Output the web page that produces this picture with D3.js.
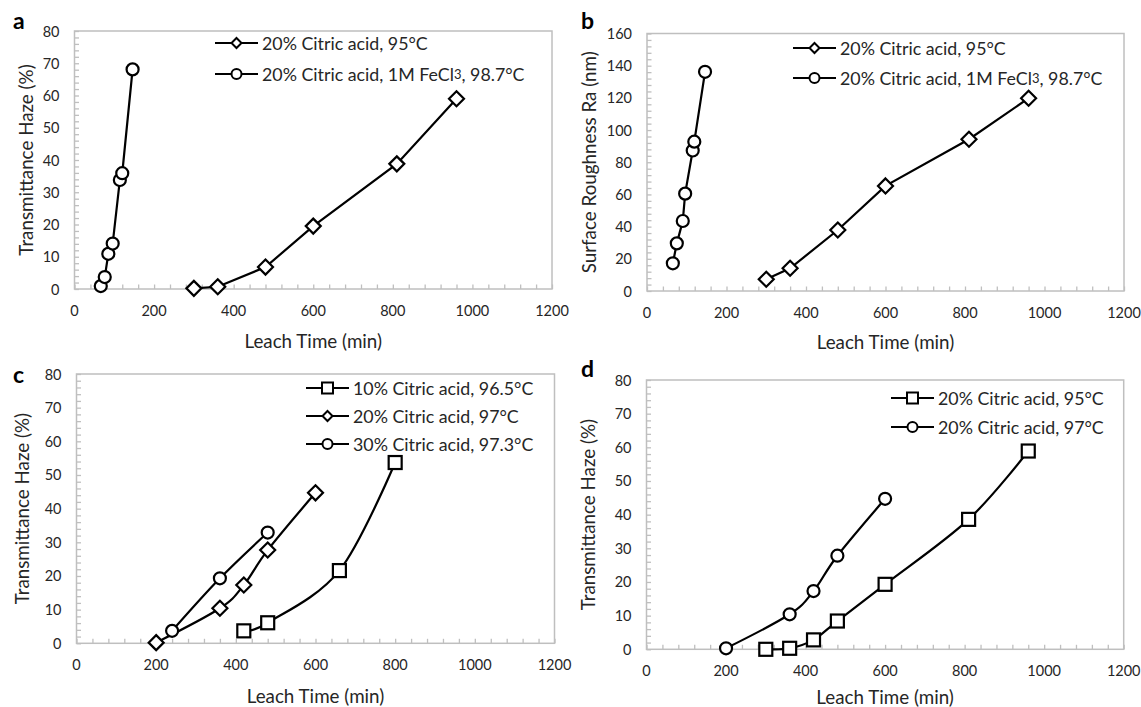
<!DOCTYPE html>
<html>
<head>
<meta charset="utf-8">
<script src="https://cdn.jsdelivr.net/npm/d3@7"></script>
<style>
  body { margin: 0; background: #fff; }
  text { font-family: Lato, "Open Sans", sans-serif; fill: #262626; }
</style>
</head>
<body>
<svg id="chart" width="1141" height="707"></svg>
<script>
// x axis ticks (leach time, min)
const timeTicks = [0, 200, 400, 600, 800, 1000, 1200]

// panel a - transmittance haze
const aDiamondTime = [300, 360, 480, 600, 810, 960]
const aDiamondHaze = [0.2, 0.7, 6.8, 19.5, 38.8, 59]
const aCircleTime = [66, 76, 85, 96, 114, 120, 146]
const aCircleHaze = [0.9, 3.7, 10.9, 14.1, 33.8, 35.9, 68.1]
const aTicks = [0, 10, 20, 30, 40, 50, 60, 70, 80]

// panel b - surface roughness
const bDiamondTime = [300, 360, 480, 600, 810, 960]
const bDiamondRa = [7.3, 14.1, 37.9, 65.3, 94.3, 119.8]
const bCircleTime = [65, 75, 90, 96, 115, 119, 146]
const bCircleRa = [17.2, 29.6, 43.5, 60.5, 87.3, 92.8, 136.2]
const bTicks = [0, 20, 40, 60, 80, 100, 120, 140, 160]

// panel c - acid concentration
const cSquareTime = [420, 480, 660, 800]
const cSquareHaze = [3.7, 6.1, 21.6, 53.7]
const cDiamondTime = [200, 360, 420, 480, 600]
const cDiamondHaze = [0.2, 10.4, 17.3, 27.7, 44.7]
const cCircleTime = [240, 360, 480]
const cCircleHaze = [3.7, 19.3, 32.9]

// panel d - temperature
const dSquareTime = [300, 360, 420, 480, 600, 810, 960]
const dSquareHaze = [0, 0.3, 2.8, 8.4, 19.3, 38.6, 58.9]
const dCircleTime = [200, 360, 420, 480, 600]
const dCircleHaze = [0.3, 10.4, 17.3, 27.8, 44.7]

const zip = (xs, ys) => xs.map((x, i) => ({x: x, y: ys[i]}))

const panels = [
    {letter: 'a', box: {l: 74.5, r: 552, t: 31, b: 289}, letterPos: [13, 29],
     yTicks: aTicks, yMinor: 2, yTitle: 'Transmittance Haze (%)', yTitleX: 25.5, xTitleY: 340,
     curve: d3.curveLinear,
     legend: {x: 215, y: 43, dy: 31},
     series: [
        {shape: 'diamond', label: '20% Citric acid, 95°C', data: zip(aDiamondTime, aDiamondHaze)},
        {shape: 'circle', label: '20% Citric acid, 1M FeCl|3|, 98.7°C', data: zip(aCircleTime, aCircleHaze)}
     ]},
    {letter: 'b', box: {l: 647, r: 1124, t: 33.5, b: 291}, letterPos: [581, 29],
     yTicks: bTicks, yMinor: 4, yTitle: 'Surface Roughness Ra (nm)', yTitleX: 588, xTitleY: 341.5,
     curve: d3.curveLinear,
     legend: {x: 793, y: 48, dy: 30},
     series: [
        {shape: 'diamond', label: '20% Citric acid, 95°C', data: zip(bDiamondTime, bDiamondRa)},
        {shape: 'circle', label: '20% Citric acid, 1M FeCl|3|, 98.7°C', data: zip(bCircleTime, bCircleRa)}
     ]},
    {letter: 'c', box: {l: 76.5, r: 554.5, t: 374, b: 643.3}, letterPos: [13, 383],
     yTicks: aTicks, yMinor: 2, yTitle: 'Transmittance Haze (%)', yTitleX: 21, xTitleY: 695,
     curve: d3.curveCatmullRom.alpha(0),
     legend: {x: 306, y: 388, dy: 28},
     series: [
        {shape: 'square', label: '10% Citric acid, 96.5°C', data: zip(cSquareTime, cSquareHaze)},
        {shape: 'diamond', label: '20% Citric acid, 97°C', data: zip(cDiamondTime, cDiamondHaze)},
        {shape: 'circle', label: '30% Citric acid, 97.3°C', data: zip(cCircleTime, cCircleHaze)}
     ]},
    {letter: 'd', box: {l: 646.5, r: 1123.7, t: 380, b: 649.3}, letterPos: [581, 377],
     yTicks: aTicks, yMinor: 2, yTitle: 'Transmittance Haze (%)', yTitleX: 587, xTitleY: 696.5,
     curve: d3.curveCatmullRom.alpha(0),
     legend: {x: 891, y: 398, dy: 29},
     series: [
        {shape: 'square', label: '20% Citric acid, 95°C', data: zip(dSquareTime, dSquareHaze)},
        {shape: 'circle', label: '20% Citric acid, 97°C', data: zip(dCircleTime, dCircleHaze)}
     ]}
]

const svg = d3.select('#chart')
const axisGray = '#bfbfbf'

// marker drawing, s = half size
function marker(g, shape, cx, cy, s) {
    if (shape === 'circle') {
        g.append('circle').attr('cx', cx).attr('cy', cy).attr('r', s)
    } else if (shape === 'square') {
        g.append('rect').attr('x', cx - s).attr('y', cy - s).attr('width', 2 * s).attr('height', 2 * s)
    } else {
        g.append('path').attr('d', `M${cx},${cy - s}L${cx + s},${cy}L${cx},${cy + s}L${cx - s},${cy}Z`)
    }
}
const markerSize = {circle: 6, square: 6.5, diamond: 7.5}
const legendSize = {circle: 5, square: 5.5, diamond: 5}

panels.forEach(p => {
    const box = p.box
    const yMax = p.yTicks[p.yTicks.length - 1]

    const x = d3.scaleLinear().domain([0, 1200]).range([box.l, box.r])
    const y = d3.scaleLinear().domain([0, yMax]).range([box.b, box.t])

    const g = svg.append('g')

    // plot frame
    g.append('rect')
        .attr('x', box.l).attr('y', box.t)
        .attr('width', box.r - box.l).attr('height', box.b - box.t)
        .attr('fill', 'none').attr('stroke', axisGray).attr('stroke-width', 1.5)

    // inside ticks
    const xAxis = d3.axisTop(x).tickValues(d3.range(0, 1201, 40)).tickSize(4.5).tickFormat('')
    g.append('g').attr('transform', `translate(0,${box.b})`).call(xAxis)
        .call(s => s.select('.domain').remove())
        .call(s => s.selectAll('line').attr('stroke', axisGray).attr('stroke-width', 1.3))

    const yAxis = d3.axisRight(y).tickValues(d3.range(0, yMax + 0.1, p.yMinor)).tickSize(4.5).tickFormat('')
    g.append('g').attr('transform', `translate(${box.l},0)`).call(yAxis)
        .call(s => s.select('.domain').remove())
        .call(s => s.selectAll('line').attr('stroke', axisGray).attr('stroke-width', 1.3))

    // tick labels
    g.append('g').selectAll('text').data(timeTicks).join('text')
        .attr('x', d => x(d)).attr('y', box.b + 21)
        .attr('text-anchor', 'middle').attr('dominant-baseline', 'central')
        .attr('font-size', '14.5px')
        .text(d => d)

    g.append('g').selectAll('text').data(p.yTicks).join('text')
        .attr('x', box.l - 15).attr('y', d => y(d))
        .attr('text-anchor', 'end').attr('dominant-baseline', 'central')
        .attr('font-size', '14.5px')
        .text(d => d)

    // axis titles
    g.append('text')
        .attr('x', (box.l + box.r) / 2).attr('y', p.xTitleY)
        .attr('text-anchor', 'middle').attr('dominant-baseline', 'central')
        .attr('font-size', '18.8px')
        .text('Leach Time (min)')

    g.append('text')
        .attr('transform', `translate(${p.yTitleX},${(box.t + box.b) / 2}) rotate(-90)`)
        .attr('text-anchor', 'middle').attr('dominant-baseline', 'central')
        .attr('font-size', '18.8px')
        .text(p.yTitle)

    // panel letter
    g.append('text')
        .attr('x', p.letterPos[0]).attr('y', p.letterPos[1])
        .attr('font-family', '"Liberation Sans", Arial, sans-serif')
        .attr('font-weight', 'bold').attr('font-size', '23px')
        .style('fill', '#000')
        .text(p.letter)

    // series
    const line = d3.line().x(d => x(d.x)).y(d => y(d.y)).curve(p.curve)
    p.series.forEach(s => {
        g.append('path')
            .datum(s.data)
            .attr('fill', 'none')
            .attr('stroke', '#000')
            .attr('stroke-width', 2.2)
            .attr('d', line)

        const mg = g.append('g').attr('fill', '#fff').attr('stroke', '#000').attr('stroke-width', 2.2)
        s.data.forEach(d => marker(mg, s.shape, x(d.x), y(d.y), markerSize[s.shape]))
    })

    // legend
    p.series.forEach((s, i) => {
        const ly = p.legend.y + i * p.legend.dy
        const lx = p.legend.x
        g.append('line')
            .attr('x1', lx).attr('x2', lx + 43).attr('y1', ly).attr('y2', ly)
            .attr('stroke', '#000').attr('stroke-width', 2.2)
        const mg = g.append('g').attr('fill', '#fff').attr('stroke', '#000').attr('stroke-width', 2)
        marker(mg, s.shape, lx + 21.5, ly, legendSize[s.shape])

        const t = g.append('text')
            .attr('x', lx + 47).attr('y', ly)
            .attr('dominant-baseline', 'central')
            .attr('font-size', '17.8px')
        // "|3|" marks the small 3 in FeCl3
        s.label.split('|').forEach((part, k) => {
            t.append('tspan').attr('font-size', k === 1 ? '13px' : null).text(part)
        })
    })
})
</script>
</body>
</html>
